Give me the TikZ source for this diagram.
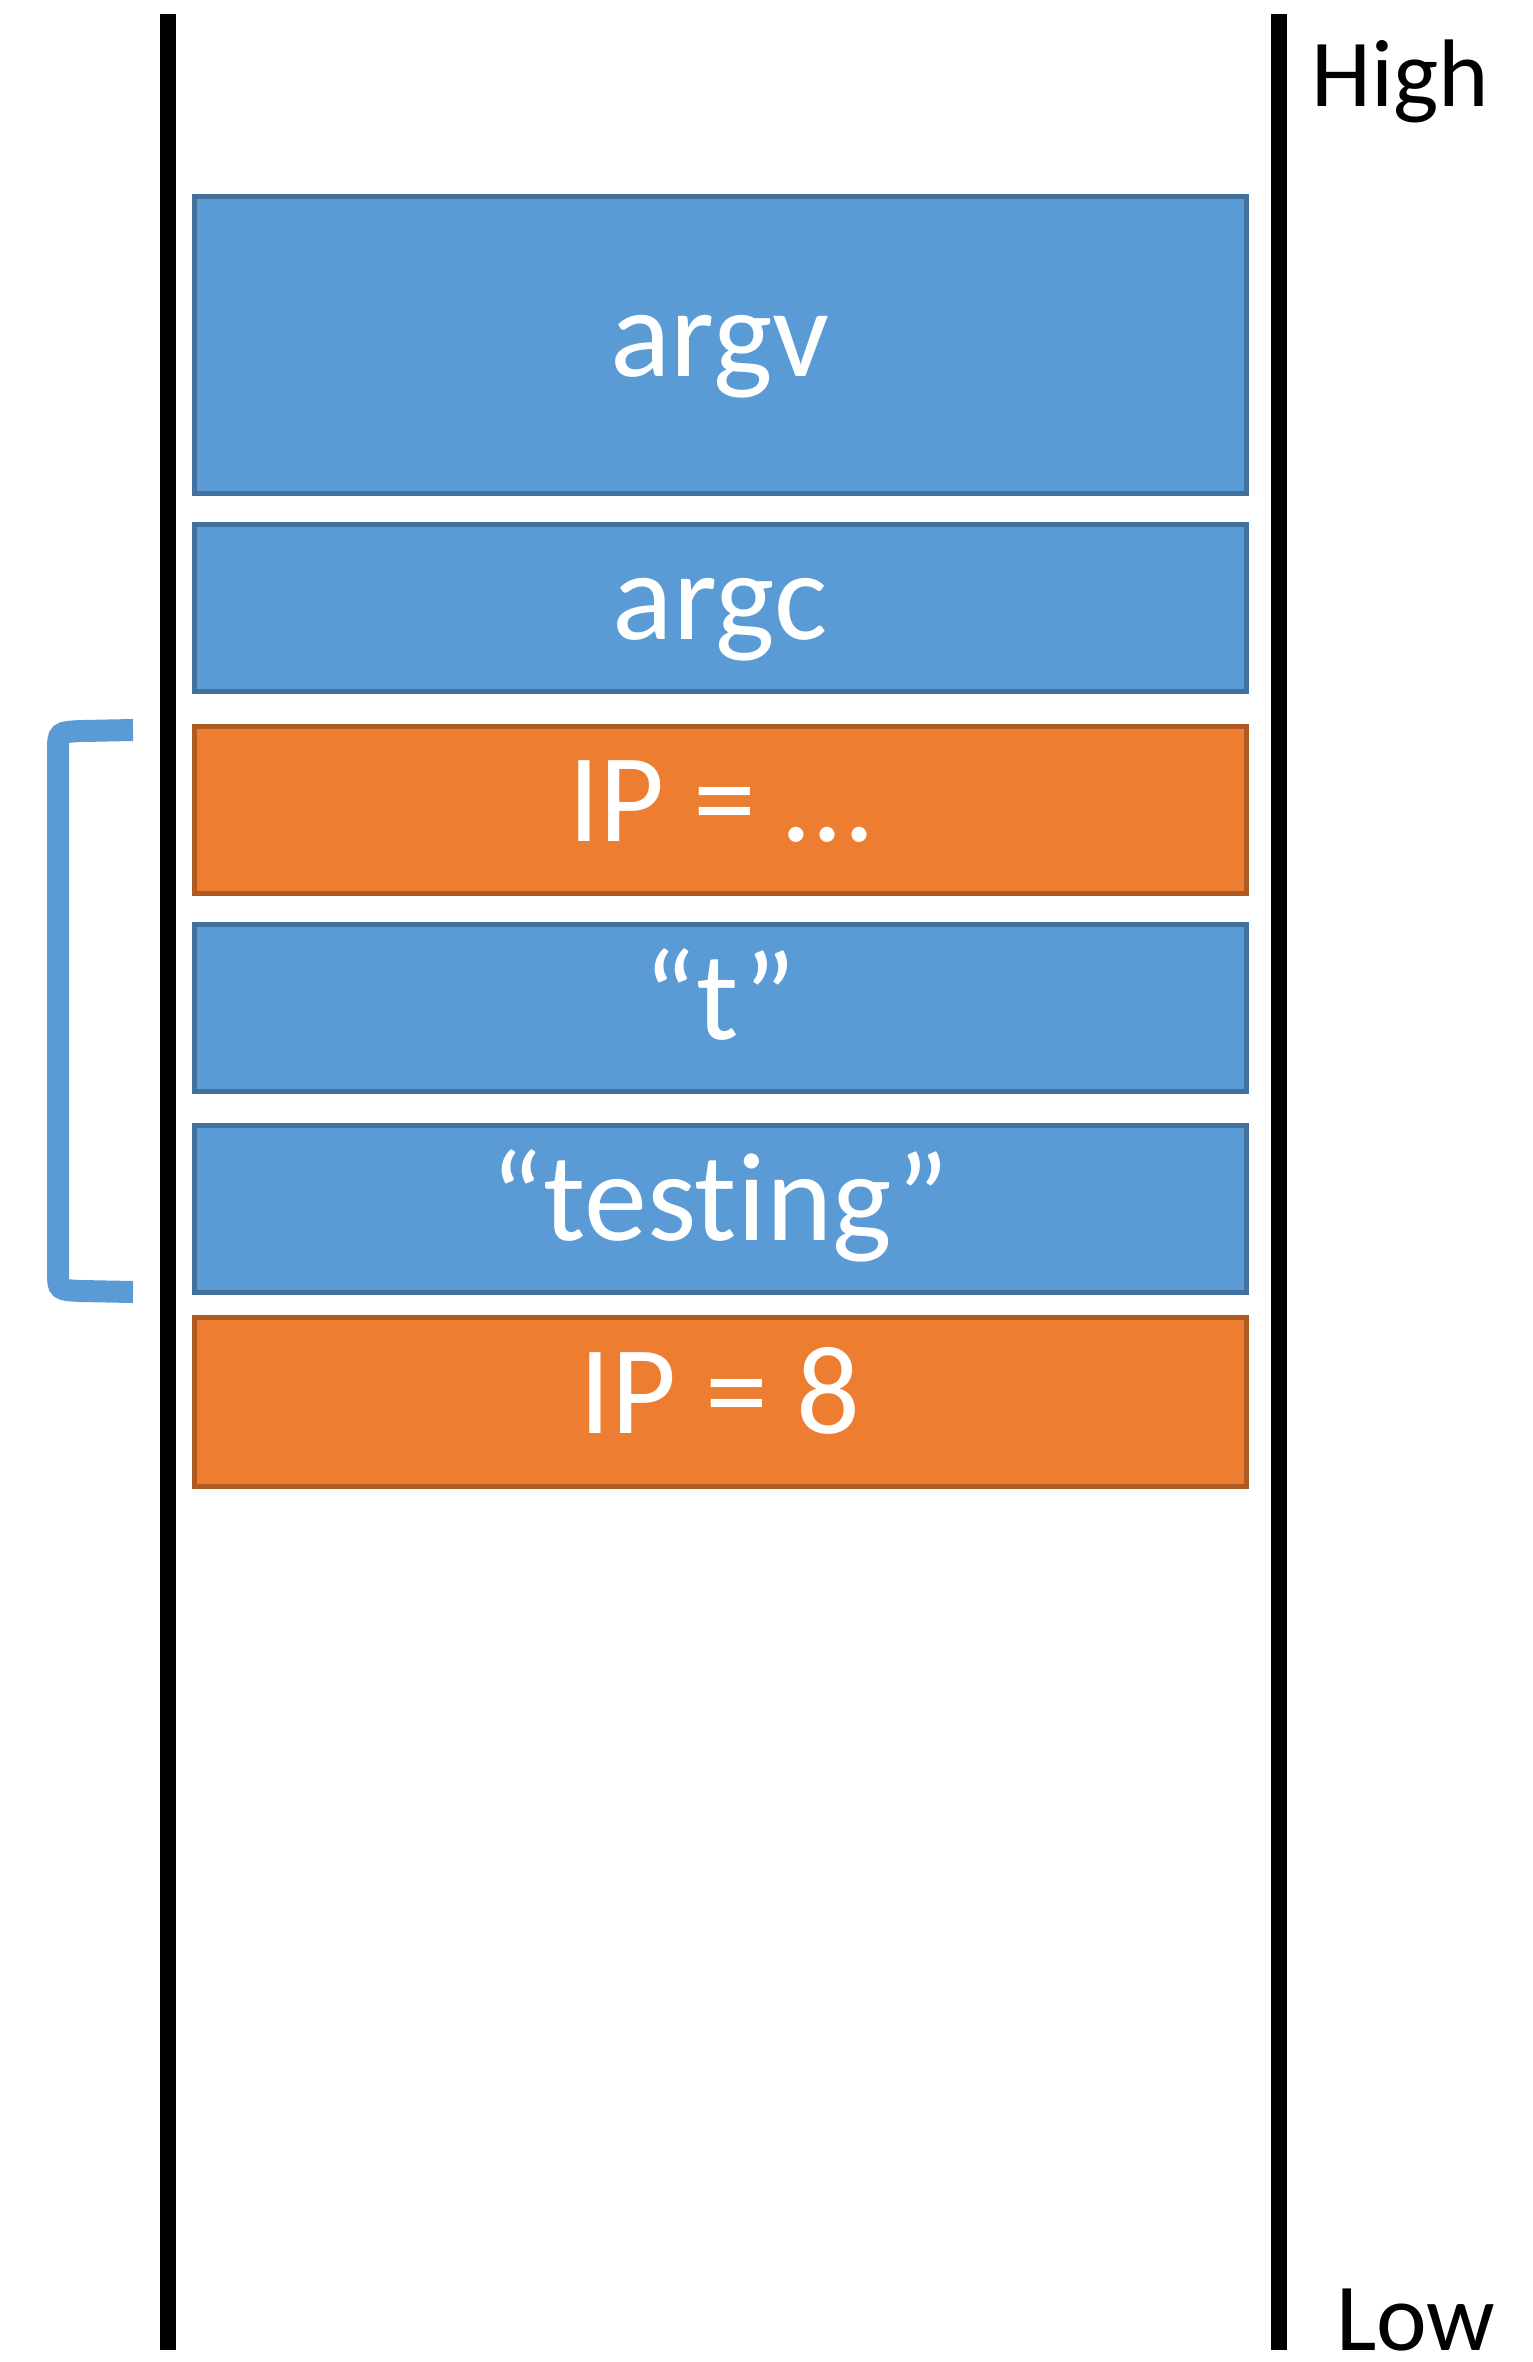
\documentclass[tikz,border=0pt]{standalone}
\usepackage{fontspec}
\setmainfont{Carlito}[Ligatures={NoCommon}]
\definecolor{bfill}{HTML}{5B9BD5}
\definecolor{bdraw}{HTML}{41719C}
\definecolor{ofill}{HTML}{ED7D31}
\definecolor{odraw}{HTML}{AE5A21}
\begin{document}
\begin{tikzpicture}[x=1pt,y=-1pt,
  cell/.style={draw=bdraw,fill=bfill,line width=5pt,text=white,font=\fontsize{126}{130}\selectfont,
    minimum width=1052pt,inner sep=0pt,text height=94.5pt,text depth=31.5pt,anchor=north west},
  ocell/.style={cell,draw=odraw,fill=ofill},
  wall/.style={line width=16pt,black},
  lbl/.style={font=\fontsize{96}{100}\selectfont,anchor=base west,inner sep=0pt,text depth=0pt}]
\useasboundingbox (0,0) rectangle (1533,2362);
\coordinate (lt) at (168,14);
\coordinate (lb) at (168,2350);
\coordinate (rt) at (1278.5,14);
\coordinate (rb) at (1278.5,2350);
\draw[wall] (lt) -- (lb);
\draw[wall] (rt) -- (rb);
\node[cell,minimum height=297pt] (argv) at (191.5,193.5) {argv};
\node[cell,minimum height=167pt] (argc) at (191.5,521.5) {argc};
\node[ocell,minimum height=167pt] (ip1) at (191.5,723.5) {IP = …};
\node[cell,minimum height=167pt] (t) at (191.5,921.5) {“t”};
\node[cell,minimum height=167pt] (testing) at (191.5,1122.5) {“testing”};
\node[ocell,minimum height=169pt] (ip2) at (191.5,1314.5) {IP = 8};
\node[lbl] (high) at (1311,106) {High};
\node[lbl] (low) at (1336,2350) {Low};
\coordinate (bt) at (133,730);
\coordinate (bb) at (133,1292);
\draw[bfill,line width=22pt] (bt) -- (82,731) .. controls (58,732) .. (58,752) -- (58,1272) .. controls (58,1290) .. (82,1291) -- (bb);
\end{tikzpicture}
\end{document}
